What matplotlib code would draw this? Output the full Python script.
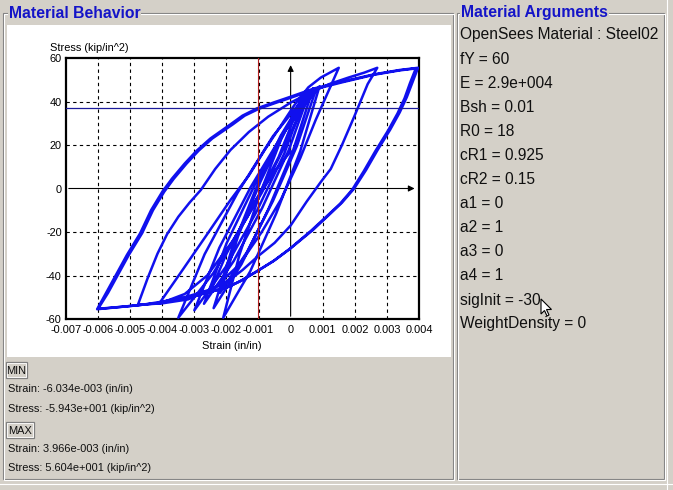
import matplotlib
matplotlib.use("Agg")
import matplotlib.pyplot as plt
from matplotlib.patches import Rectangle, Polygon

# ---------------- data (strain in 1e-3 in/in, stress in kip/in^2) ----------------
cluster_strain = [0.7, 0.08, -0.695, -1.532, -2.4,
                  -1.82, -1.095, -0.312, 0.5,
                  -0.2, -1.075, -2.02, -3.0,
                  -2.22, -1.245, -0.192, 0.9,
                  0.3, -0.45, -1.26, -2.1,
                  -1.6, -0.975, -0.3, 0.4,
                  -0.38, -1.355, -2.41, -3.5,
                  -2.68, -1.655, -0.548, 0.6,
                  -0.06, -0.885, -1.776, -2.7,
                  -2.0, -1.125, -0.18, 0.8,
                  0.2, -0.55, -1.36, -2.2,
                  -1.64, -0.94, -0.184, 0.6]
cluster_stress = [46, 17.7, -9.55, -34.8, -55,
                  -27.3, -0.55, 24.2, 44,
                  16, -11, -36, -56,
                  -27.2, 0.65, 26.4, 47,
                  17.2, -11.5, -38.1, -59.4,
                  -30.7, -3.1, 22.5, 43,
                  14.3, -13.3, -38.9, -59.4,
                  -30.2, -2.0, 24.1, 45,
                  17.6, -8.9, -33.4, -53,
                  -25.3, 1.45, 26.2, 46,
                  19.7, -5.7, -29.2, -48,
                  -22, 3.15, 26.4, 45]

env_dn_strain = [-0.1, -0.9, -1.8, -2.6, -3.3, -4.1]
env_dn_stress = [22, -2, -24, -40, -48.5, -53]

peak15_up_strain = [-3.44, -2.6, -1.875, -1.3, -0.81, -0.3, 0.1, 0.55, 0.94, 1.5]
peak15_up_stress = [-39, -21, -5.3, 6, 17.7, 29, 38, 46.5, 51, 55.5]
peak15_dn_strain = [1.15, 0.78, 0.3, -0.3, -0.9, -1.6, -2.4, -3.2, -4.0, -4.76]
peak15_dn_stress = [43.8, 31.5, 14, -5, -20, -35, -46, -51, -52.8, -53.5]

loopB_up_strain = [-4.45, -4.15, -3.85, -3.5, -3.15, -2.8, -2.35, -1.875, -1.3, -0.7, 0.0,
                   0.6, 1.2, 1.8, 2.3, 2.7]
loopB_up_stress = [-41, -30, -21, -13, -6.5, -0.7, 9, 17.7, 26, 33, 39.5,
                   44, 48, 51, 53.3, 55.5]
loopB_dn_strain = [2.4, 1.98, 1.6, 1.25, 0.94, 0.5, 0.0, -0.5, -1.04, -1.5, -1.9, -2.4,
                   -3.23, -4.0, -4.69, -5.4, -6.03]
loopB_dn_stress = [48, 33, 20, 9, 3, -6, -17, -25, -31.4, -37.5, -42, -46,
                   -49.7, -52, -53.6, -54.6, -55.5]

outer_up_strain = [-5.75, -5.47, -5.1, -4.69, -4.35, -4.0, -3.7, -3.3, -2.92, -2.5, -1.875,
                   -1.5, -1.04, -0.5, 0.0, 0.73, 1.56, 2.6, 3.4, 3.97]
outer_up_stress = [-48, -40.5, -30.5, -20.6, -10, -1.5, 4.5, 11.5, 17.5, 23, 29.5,
                   33.5, 36.9, 39.7, 42.2, 46, 49, 52.5, 54.5, 55.5]
outer_dn_strain = [3.8, 3.62, 3.4, 3.1, 2.71, 2.35, 1.98, 1.6, 1.25, 0.7, 0.0, -0.5, -1.04,
                   -1.5, -1.9, -2.6]
outer_dn_stress = [49, 42, 35, 27, 17.7, 8.5, 0, -6.5, -11.4, -19, -27.5, -33, -38,
                   -42, -45, -48]

env2_dn_strain = [-3.3, -4.2, -5.2, -6.0]
env2_dn_stress = [-50.5, -52.8, -54.3, -55.3]
outer2_up_strain = [-5.69, -5.41, -5.04, -4.63, -4.29, -3.94, -3.64, -3.24, -2.86, -2.44,
                    -1.8, -1.43, -0.98, -0.44, 0.06, 0.8, 1.6, 2.6, 3.4, 3.9]
outer2_up_stress = [-48, -40.5, -30.5, -20.6, -10, -1.5, 4.5, 11.5, 17.5, 23,
                    29.5, 33.5, 36.7, 39.5, 42, 45.8, 48.8, 52.3, 54.3, 55.2]
outer2_dn_strain = [3.72, 3.55, 3.33, 3.03, 2.64, 2.28, 1.92, 1.54, 1.18, 0.63, -0.05,
                    -0.55, -1.1, -1.55, -1.95, -2.5]
outer2_dn_stress = [48.5, 41.5, 34.5, 26.5, 17.2, 8, -0.5, -7, -12, -19.5, -28,
                    -33.5, -38.5, -42.5, -45.3, -47.5]

final_strain = [-2.0, -1.2, -0.5, 0.0]
final_stress = [-30, -8, 8, 17]

x_ticks = [-7, -6, -5, -4, -3, -2, -1, 0, 1, 2, 3, 4]
x_tick_labels = ["-0.007", "-0.006", "-0.005", "-0.004", "-0.003", "-0.002", "-0.001",
                 "0", "0.001", "0.002", "0.003", "0.004"]
y_ticks = [-60, -40, -20, 0, 20, 40, 60]
y_tick_labels = ["-60", "-40", "-20", "0", "20", "40", "60"]

cursor_stress = 36.9      # horizontal blue cross-hair
cursor_strain = -1.03     # vertical red cross-hair

args_lines = ["OpenSees Material : Steel02", "fY = 60", "E = 2.9e+004", "Bsh = 0.01",
              "R0 = 18", "cR1 = 0.925", "cR2 = 0.15", "a1 = 0", "a2 = 1", "a3 = 0",
              "a4 = 1", "sigInit = -30", "WeightDensity = 0"]
min_lines = ["Strain: -6.034e-003 (in/in)", "Stress: -5.943e+001 (kip/in^2)"]
max_lines = ["Strain: 3.966e-003 (in/in)", "Stress: 5.604e+001 (kip/in^2)"]

# ---------------- figure ----------------
W, H = 673, 490
GRAY = "#D4D0C8"
TITLE_BLUE = "#1414C8"
FONT = "Liberation Sans"
fig = plt.figure(figsize=(W / 100, H / 100), dpi=100, facecolor=GRAY)

bg = fig.add_axes([0, 0, 1, 1], zorder=0)
bg.set_xlim(0, W)
bg.set_ylim(H, 0)
bg.axis("off")


def groupbox(x0, y0, x1, y1):
    bg.add_patch(Rectangle((x0, y0), x1 - x0, y1 - y0, fill=False, ec="#808080", lw=0.8))
    bg.add_patch(Rectangle((x0 + 1, y0 + 1), x1 - x0, y1 - y0, fill=False, ec="white", lw=0.8))


groupbox(3, 13, 453, 479)
groupbox(457, 13, 664, 479)
bg.plot([667, 667], [0, 490], color="white", lw=0.8)
bg.plot([0, 673], [484, 484], color="white", lw=0.8)

# white plot panel
bg.add_patch(Rectangle((7, 25), 444, 332, fc="white", ec="none"))

bg.text(9, 13, "Material Behavior", fontsize=11.3, fontweight="bold", color=TITLE_BLUE,
        family=FONT, va="center", ha="left",
        bbox=dict(fc=GRAY, ec="none", pad=0.5))
bg.text(461, 13, "Material Arguments", fontsize=11.3, fontweight="bold", color=TITLE_BLUE,
        family=FONT, va="center", ha="left",
        bbox=dict(fc=GRAY, ec="none", pad=0.5))

arg_y = [35, 60, 83, 107, 131, 155, 179, 203, 227, 251, 275, 300, 323]
for txt, yy in zip(args_lines, arg_y):
    bg.text(460, yy, txt, fontsize=11.2, color="#101010", family=FONT, va="center", ha="left")


def button(x0, y0, x1, y1, label):
    bg.add_patch(Rectangle((x0, y0), x1 - x0, y1 - y0, fc=GRAY, ec="#808080", lw=0.9))
    bg.add_patch(Rectangle((x0 + 1, y0 + 1), x1 - x0 - 2, y1 - y0 - 2, fill=False, ec="white", lw=0.6))
    bg.text((x0 + x1) / 2, (y0 + y1) / 2 + 0.5, label, fontsize=7.9, family=FONT, color="#101010",
            ha="center", va="center")


button(6, 362, 27, 378, "MIN")
button(6, 422, 34, 438, "MAX")
for txt, yy in zip(min_lines + max_lines, [389, 409, 449, 468]):
    bg.text(8, yy, txt, fontsize=7.9, family=FONT, color="#101010", va="center", ha="left")

bg.text(50, 48, "Stress (kip/in^2)", fontsize=7.9, family=FONT, color="black", va="center", ha="left")
bg.text(232, 346, "Strain (in/in)", fontsize=7.9, family=FONT, color="black", va="center", ha="center")

# mouse cursor
cx, cy = 541, 299
cur = [(cx, cy), (cx, cy + 15), (cx + 3.5, cy + 11.5), (cx + 6, cy + 17), (cx + 8, cy + 16),
       (cx + 5.5, cy + 10.5), (cx + 10.5, cy + 10.5)]
bg.add_patch(Polygon(cur, closed=True, fc="white", ec="black", lw=0.8, zorder=5))

# ---------------- data axes ----------------
L, R, T, B = 66, 419, 58, 319
ax = fig.add_axes([L / W, 1 - B / H, (R - L) / W, (B - T) / H], zorder=2)
ax.set_facecolor("white")
xmin, xmax = x_ticks[0], x_ticks[-1]
ymin, ymax = y_ticks[0], y_ticks[-1]
ax.set_xlim(xmin, xmax)
ax.set_ylim(ymin, ymax)
for s in ax.spines.values():
    s.set_linewidth(1.6)
    s.set_color("black")
ax.set_xticks(x_ticks)
ax.set_xticklabels(x_tick_labels, fontsize=7.9, family=FONT)
ax.set_yticks(y_ticks)
ax.set_yticklabels(y_tick_labels, fontsize=7.9, family=FONT)
ax.tick_params(axis="y", length=0, pad=3)
ax.tick_params(axis="x", length=0, pad=4.5)
for t in x_ticks[1:-1]:
    if t != 0:
        ax.axvline(t, color="black", lw=0.8, ls=(0, (3, 3)), zorder=1)
for t in y_ticks[1:-1]:
    if t != 0:
        ax.axhline(t, color="black", lw=0.8, ls=(0, (3, 3)), zorder=1)
ax.annotate("", xy=(xmax - 0.05, 0), xytext=(xmin, 0),
            arrowprops=dict(arrowstyle="-|>", color="black", lw=0.8, mutation_scale=9), zorder=2)
ax.annotate("", xy=(0, ymax - 2), xytext=(0, ymin),
            arrowprops=dict(arrowstyle="-|>", color="black", lw=0.8, mutation_scale=9), zorder=2)

path_strain = (cluster_strain + env_dn_strain + peak15_up_strain + peak15_dn_strain +
               loopB_up_strain + loopB_dn_strain + outer_up_strain + outer_dn_strain +
               env2_dn_strain + outer2_up_strain + outer2_dn_strain + final_strain)
path_stress = (cluster_stress + env_dn_stress + peak15_up_stress + peak15_dn_stress +
               loopB_up_stress + loopB_dn_stress + outer_up_stress + outer_dn_stress +
               env2_dn_stress + outer2_up_stress + outer2_dn_stress + final_stress)
ax.plot(path_strain, path_stress, color="#1010EE", lw=1.8, zorder=3, solid_joinstyle="round")

ax.axhline(cursor_stress, color="#1A1A9A", lw=0.9, zorder=4)
ax.axvline(cursor_strain, color="#B02020", lw=0.8, zorder=4)

fig.savefig("out.png", dpi=100, facecolor=GRAY)
